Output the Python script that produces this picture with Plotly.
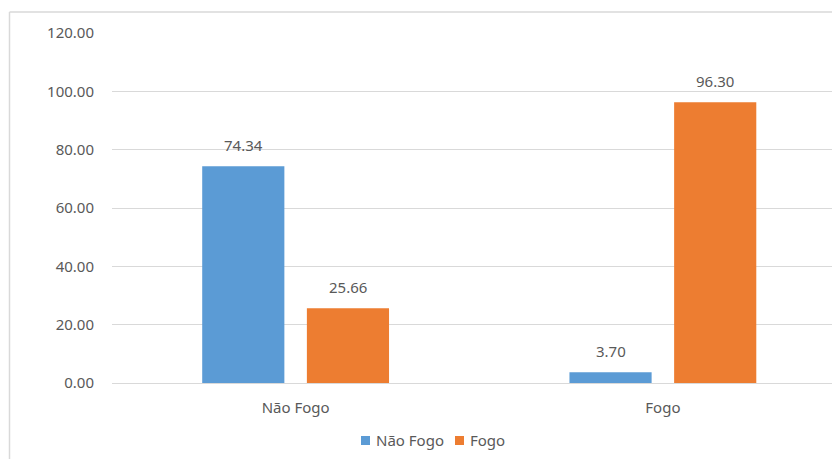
import plotly.graph_objects as go

categories = ["Não Fogo", "Fogo"]
series_names = ["Não Fogo", "Fogo"]
nao_fogo_values = [74.34, 3.70]
fogo_values = [25.66, 96.30]
y_ticks = [0, 20, 40, 60, 80, 100, 120]

colors = ["#5B9BD5", "#ED7D31"]
text_color = "#595959"
grid_color = "#D9D9D9"
font_family = "Noto Sans"

W, H = 832, 459
L, T, B = 112, 33, 76
plot_w = W - L
plot_h = H - T - B
cat_px = 367.25
x_max = -0.5 + plot_w / cat_px


def px_x(px):
    return (px - L) / plot_w


def px_y(py):
    return (H - B - py) / plot_h


fig = go.Figure()
all_values = [nao_fogo_values, fogo_values]
for name, vals, col in zip(series_names, all_values, colors):
    fig.add_trace(go.Bar(x=list(range(len(categories))), y=vals, name=name,
                         showlegend=False,
                         marker=dict(color=col, line=dict(width=0))))

# data labels above each bar
bargap = 0.43
bargroupgap = 0.215
slot = (1 - bargap) / 2
for s_idx, vals in enumerate(all_values):
    offset = (s_idx - 0.5) * slot
    for c_idx, v in enumerate(vals):
        fig.add_annotation(x=c_idx + offset, y=v, text=f"{v:.2f}", showarrow=False,
                           xref="x", yref="y", yanchor="bottom", yshift=9,
                           font=dict(size=15, color=text_color, family=font_family))

# legend (Excel style: small square close to text)
legend_starts = [361, 455]
for name, col, sx in zip(series_names, colors, legend_starts):
    fig.add_shape(type="rect", xref="paper", yref="paper",
                  x0=px_x(sx), x1=px_x(sx + 9), y0=px_y(445), y1=px_y(436),
                  fillcolor=col, line=dict(width=0))
    fig.add_annotation(x=px_x(sx + 13), y=px_y(440), xref="paper", yref="paper",
                       text=name, showarrow=False, xanchor="left", yanchor="middle",
                       font=dict(size=15, color=text_color, family=font_family))

# chart border (left and top visible)
bx = px_x(9.5)
by = px_y(12)
fig.add_shape(type="line", xref="paper", yref="paper", x0=bx, x1=bx, y0=by, y1=px_y(470),
              line=dict(color=grid_color, width=1.5))
fig.add_shape(type="line", xref="paper", yref="paper", x0=bx, x1=1.05, y0=by, y1=by,
              line=dict(color=grid_color, width=1.5))

fig.update_layout(
    width=W, height=H,
    margin=dict(l=L, r=0, t=T, b=B, autoexpand=False),
    paper_bgcolor="white", plot_bgcolor="white",
    barmode="group", bargap=bargap, bargroupgap=bargroupgap,
    font=dict(family=font_family, size=15, color=text_color),
    showlegend=False,
    xaxis=dict(range=[-0.5, x_max], tickmode="array",
               tickvals=list(range(len(categories))), ticktext=categories,
               showgrid=False, zeroline=False, showline=True, linecolor=grid_color,
               ticks="outside", ticklen=11, tickcolor="rgba(0,0,0,0)",
               tickfont=dict(size=15, color=text_color)),
    yaxis=dict(range=[0, 120], tickmode="array", tickvals=y_ticks,
               tickformat=".2f", showgrid=True, gridcolor=grid_color, gridwidth=1,
               zeroline=False, showline=False, ticks="outside", ticklen=14,
               tickcolor="rgba(0,0,0,0)", tickfont=dict(size=15, color=text_color)),
)

fig.write_html("out.html")
